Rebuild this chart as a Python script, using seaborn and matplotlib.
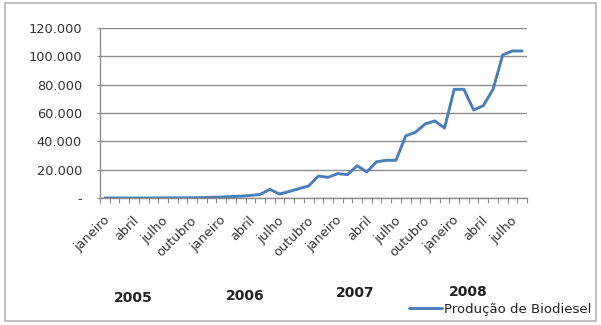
import numpy as np
import pandas as pd
import matplotlib
matplotlib.use("Agg")
import matplotlib.pyplot as plt
import matplotlib.transforms as mtransforms
import seaborn as sns
from matplotlib.patches import Rectangle

# Data: monthly biodiesel production, jan/2005 - ago/2008
meses = ["janeiro", "fevereiro", "março", "abril", "maio", "junho", "julho",
         "agosto", "setembro", "outubro", "novembro", "dezembro"]
anos = ["2005", "2006", "2007", "2008"]
producao = [0, 0, 0, 0, 0, 0, 100, 100, 100, 200, 300, 500,
            700, 1000, 1300, 1800, 2500, 6100, 2800, 4600, 6600, 8500, 15500, 14600,
            17200, 16500, 22800, 18400, 25600, 26600, 26600, 43800, 46400, 52200, 54400, 49400,
            76700, 76700, 62100, 65200, 76700, 101000, 103800, 103800]
y_ticks = [0, 20000, 40000, 60000, 80000, 100000, 120000]
y_labels = ["-", "20.000", "40.000", "60.000", "80.000", "100.000", "120.000"]

df = pd.DataFrame({"idx": np.arange(len(producao)), "valor": producao})
rotulos = [meses[i % 12] for i in range(len(producao))]

sns.set_theme(style="white")
plt.rcParams['font.family'] = ['DejaVu Sans']

fig = plt.figure(figsize=(6.01, 3.25), dpi=100)
ax = fig.add_axes([100 / 601, 1 - 198 / 325, 427 / 601, 170 / 325])

sns.lineplot(data=df, x="idx", y="valor", ax=ax, color="#4a7ebb", linewidth=2.1,
             label="Produção de Biodiesel")

ax.set_xlim(-0.5, len(producao) - 0.5)
ax.set_ylim(0, 120000)
ax.set_xlabel("")
ax.set_ylabel("")

# y axis
ax.set_yticks(y_ticks)
ax.set_yticklabels(y_labels, fontsize=9.3, color="#333333")
ax.yaxis.grid(True, color="#8c8c8c", linewidth=1.0)
ax.tick_params(axis="y", length=2.5, width=0.8, color="#8c8c8c", pad=10.5, left=True)

# x axis: labels every 3 months, tick marks between categories
major = list(range(0, len(producao), 3))
ax.set_xticks(major)
ax.set_xticklabels([rotulos[i] for i in major], rotation=45, ha="right",
                   rotation_mode="anchor", fontsize=9.3, color="#333333")
ax.set_xticks(np.arange(-0.5, len(producao), 1), minor=True)
ax.tick_params(axis="x", which="major", length=0, pad=11.5)
ax.tick_params(axis="x", which="minor", length=3.5, width=0.8, color="#8c8c8c", bottom=True)
shift = mtransforms.ScaledTranslation(-2 / 100, 0, fig.dpi_scale_trans)
for lab in ax.get_xticklabels():
    lab.set_transform(lab.get_transform() + shift)

for s in ["top", "right"]:
    ax.spines[s].set_visible(False)
for s in ["left", "bottom"]:
    ax.spines[s].set_color("#8c8c8c")
    ax.spines[s].set_linewidth(1.0)

# year labels
ano_pos = [(133, 298), (245, 296), (355, 293), (468, 292)]
for a, (px, py) in zip(anos, ano_pos):
    fig.text(px / 601, 1 - py / 325, a, ha="center", va="center", fontsize=10,
             fontweight="bold", color="#222222")

# legend
leg = ax.legend(loc="center left", bbox_to_anchor=(409 / 601, 1 - 309 / 325),
                bbox_transform=fig.transFigure, frameon=False, fontsize=9.5,
                handlelength=2.5, handletextpad=0.15, borderaxespad=0, borderpad=0)
for t in leg.get_texts():
    t.set_color("#222222")

# outer border
fig.patches.append(Rectangle((5 / 601, 1 - 321 / 325), 591 / 601, 318 / 325,
                             transform=fig.transFigure, fill=False,
                             edgecolor="#b4b4b4", linewidth=1.2))

fig.savefig("out.png", dpi=100)
